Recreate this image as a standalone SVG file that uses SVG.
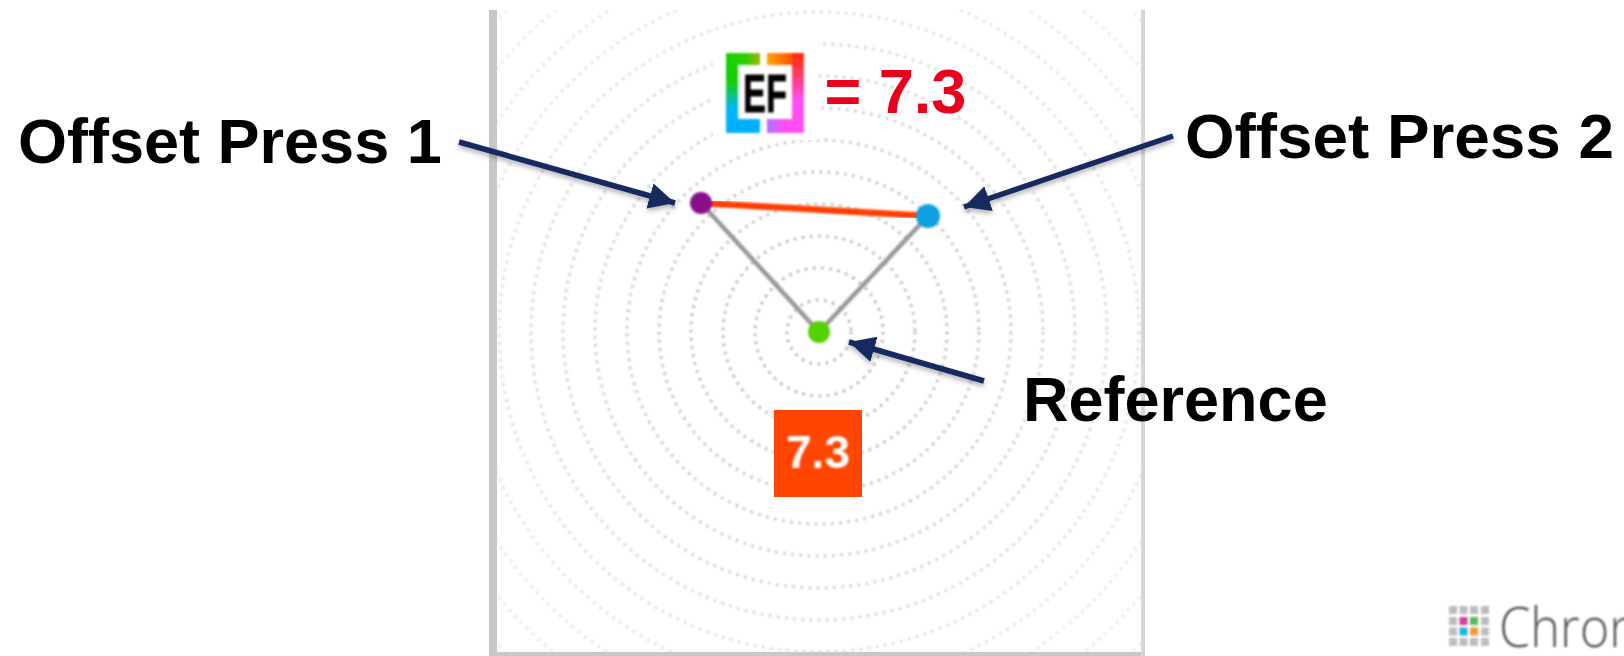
<svg xmlns="http://www.w3.org/2000/svg" width="1624" height="656" viewBox="0 0 1624 656">
<style>
.lbl{font-family:"Liberation Sans",Arial,sans-serif;font-weight:700;font-size:63px;fill:#000}
.ring{fill:none;stroke-linecap:butt;stroke-width:2.6;stroke-dasharray:2.2 6}
.arrow{stroke:#142c5f;stroke-width:5.500;fill:none;marker-end:url(#ah)}
.cell{fill:#bdbdbd}
</style>
<defs>
<marker id="ah" markerUnits="userSpaceOnUse" markerWidth="28" markerHeight="28" refX="26" refY="14" orient="auto"><path d="M0 1L26 14L0 27Z" fill="#142c5f"/></marker>
<filter id="soft" x="-5%" y="-5%" width="110%" height="110%"><feGaussianBlur stdDeviation="0.8"/></filter>
<filter id="soft2" x="-10%" y="-10%" width="120%" height="120%"><feGaussianBlur stdDeviation="0.8"/></filter>
<filter id="shadow" x="-10%" y="-20%" width="120%" height="150%"><feDropShadow dx="0" dy="3" stdDeviation="2.5" flood-color="#000" flood-opacity="0.3"/></filter>
<clipPath id="plot"><rect x="497" y="10" width="644" height="642"/></clipPath>
<linearGradient id="gL" x1="0" y1="0" x2="0" y2="1"><stop offset="0" stop-color="#18d000"/><stop offset="0.35" stop-color="#18d000"/><stop offset="0.7" stop-color="#00b4ff"/><stop offset="1" stop-color="#00b0ff"/></linearGradient>
<linearGradient id="gLT" x1="0" y1="0" x2="1" y2="0"><stop offset="0" stop-color="#18d000"/><stop offset="0.6" stop-color="#30d000"/><stop offset="1" stop-color="#a8b000"/></linearGradient>
<linearGradient id="gRT" x1="0" y1="0" x2="1" y2="0"><stop offset="0" stop-color="#ffa500"/><stop offset="1" stop-color="#ff2a00"/></linearGradient>
<linearGradient id="gR" x1="0" y1="0" x2="0" y2="1"><stop offset="0" stop-color="#ff2a00"/><stop offset="0.6" stop-color="#ff50f0"/><stop offset="1" stop-color="#ff50f0"/></linearGradient>
<linearGradient id="gRB" x1="0" y1="0" x2="1" y2="0"><stop offset="0" stop-color="#b070ff"/><stop offset="0.5" stop-color="#ff50f0"/><stop offset="1" stop-color="#ff50f0"/></linearGradient>
</defs>
<rect width="1624" height="656" fill="#fff"/>
<g id="chart">
<g id="rings" clip-path="url(#plot)" filter="url(#soft)">
<circle class="ring" cx="819" cy="332" r="32" stroke="#9c9c9c"/>
<circle class="ring" cx="819" cy="332" r="64" stroke="#9c9c9c"/>
<circle class="ring" cx="819" cy="332" r="96" stroke="#a0a0a0"/>
<circle class="ring" cx="819" cy="332" r="128" stroke="#a6a6a6"/>
<circle class="ring" cx="819" cy="332" r="160" stroke="#acacac"/>
<circle class="ring" cx="819" cy="332" r="192" stroke="#b2b2b2"/>
<circle class="ring" cx="819" cy="332" r="224" stroke="#b8b8b8"/>
<circle class="ring" cx="819" cy="332" r="256" stroke="#bebebe"/>
<circle class="ring" cx="819" cy="332" r="288" stroke="#c6c6c6"/>
<circle class="ring" cx="819" cy="332" r="320" stroke="#cecece"/>
<circle class="ring" cx="819" cy="332" r="352" stroke="#d4d4d4"/>
<circle class="ring" cx="819" cy="332" r="384" stroke="#d8d8d8"/>
<circle class="ring" cx="819" cy="332" r="416" stroke="#dcdcdc"/>
<circle class="ring" cx="819" cy="332" r="448" stroke="#e0e0e0"/>
</g>
<path id="frame" d="M489 10H497V652H1141V656H489Z" fill="#c8c8c8"/>
<rect id="frame-right" x="1141" y="10" width="4" height="646" fill="#d6d6d6"/>
</g>
<g id="ef-score">
<rect x="713" y="42" width="105" height="98" fill="#fff"/>
<g filter="url(#soft2)">
<rect x="726" y="53" width="12" height="80" fill="url(#gL)"/>
<rect x="726" y="53" width="34" height="12" fill="url(#gLT)"/>
<rect x="726" y="119" width="34" height="14" fill="#00b0ff"/>
<rect x="767" y="53" width="37" height="12" fill="url(#gRT)"/>
<rect x="792" y="53" width="12" height="80" fill="url(#gR)"/>
<rect x="767" y="119" width="37" height="14" fill="url(#gRB)"/>
<text x="743" y="112" font-family="'Liberation Sans',Arial,sans-serif" font-weight="700" font-size="54" textLength="44" lengthAdjust="spacingAndGlyphs" fill="#000" stroke="#000" stroke-width="0.8">EF</text>
</g>
<text x="824.500" y="113" font-family="'Liberation Sans',Arial,sans-serif" font-weight="700" font-size="63" fill="#e8001c">= 7.3</text>
</g>
<g id="connectors">
<line x1="701" y1="203" x2="928" y2="216" stroke="#ff3c00" stroke-width="6.500" filter="url(#soft2)"/>
<line x1="701" y1="203" x2="819" y2="332" stroke="#999" stroke-width="4.500" filter="url(#soft2)"/>
<line x1="928" y1="216" x2="819" y2="332" stroke="#999" stroke-width="4.500" filter="url(#soft2)"/>
<g filter="url(#shadow)">
<line class="arrow" x1="459" y1="142" x2="675" y2="203"/>
<line class="arrow" x1="1173" y1="136" x2="964" y2="207"/>
<line class="arrow" x1="984" y1="381" x2="849" y2="342"/>
</g>
</g>
<g id="press1"><circle cx="701" cy="203" r="11" fill="#8a0a8a" filter="url(#soft2)"/><text class="lbl" x="18" y="163">Offset Press 1</text></g>
<g id="press2"><circle cx="928" cy="216" r="12" fill="#0a9fe0" filter="url(#soft2)"/><text class="lbl" x="1185" y="158" textLength="429" lengthAdjust="spacingAndGlyphs">Offset Press 2</text></g>
<g id="reference"><circle cx="819" cy="332" r="11" fill="#55d000" filter="url(#soft2)"/><text class="lbl" x="1023" y="421">Reference</text></g>
<g id="score-box">
<rect x="774" y="410" width="88" height="87" fill="#ff4500"/>
<text x="818" y="468" text-anchor="middle" font-family="'Liberation Sans',Arial,sans-serif" font-weight="700" font-size="46" fill="#fff" filter="url(#soft2)">7.3</text>
</g>
<g id="logo" filter="url(#soft2)">
<rect class="cell" x="1449" y="606" width="8" height="8"/><rect class="cell" x="1459.5" y="606" width="8" height="8"/><rect class="cell" x="1470" y="606" width="8" height="8"/><rect class="cell" x="1481" y="606" width="8" height="8"/>
<rect class="cell" x="1449" y="617" width="8" height="8"/><rect x="1459.5" y="617" width="8" height="8" fill="#d83a9c"/><rect x="1470" y="617" width="8" height="8" fill="#5cb85c"/><rect class="cell" x="1481" y="617" width="8" height="8"/>
<rect class="cell" x="1449" y="627.500" width="8" height="8"/><rect x="1459.5" y="627.500" width="8" height="8" fill="#18b8e0"/><rect x="1470" y="627.500" width="8" height="8" fill="#f59a30"/><rect class="cell" x="1481" y="627.500" width="8" height="8"/>
<rect class="cell" x="1449" y="638" width="8" height="8"/><rect class="cell" x="1459.5" y="638" width="8" height="8"/><rect class="cell" x="1470" y="638" width="8" height="8"/><rect class="cell" x="1481" y="638" width="8" height="8"/>
<text x="1499" y="647" font-family="'Open Sans',Lato,sans-serif" font-weight="300" font-size="56" textLength="140" lengthAdjust="spacingAndGlyphs" fill="#555">Chron</text>
</g>
</svg>
